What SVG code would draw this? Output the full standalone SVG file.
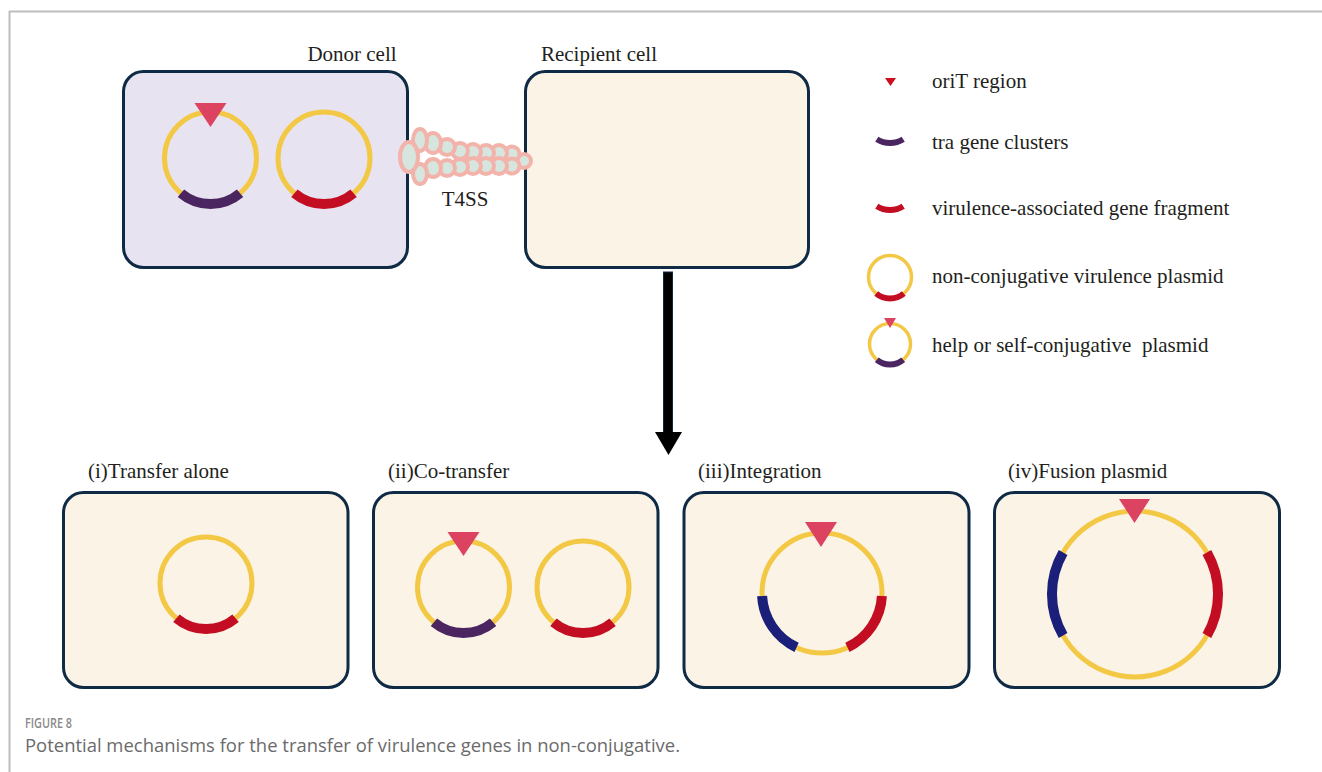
<svg xmlns="http://www.w3.org/2000/svg" width="1322" height="772" viewBox="0 0 1322 772">
  <style>
    .frame { stroke: #bdbdbd; stroke-width: 2; fill: none; }
    .cell { stroke: #0f2a44; stroke-width: 3; }
    .donor { fill: #e8e3f0; }
    .host { fill: #fbf4e6; }
    .lbl { font-family: "Liberation Serif", "Times New Roman", serif; font-size: 21px; fill: #231f20; }
    .ring { fill: none; stroke: #f3c845; stroke-width: 5; }
    .ring-s { fill: none; stroke: #f3c845; stroke-width: 3.5; }
    .vir { fill: none; stroke: #c30d23; stroke-width: 10; }
    .tra { fill: none; stroke: #4a2560; stroke-width: 10; }
    .ins { fill: none; stroke: #1b1f7a; stroke-width: 10; }
    .orit { fill: #dc4361; }
    .pilus { fill: #d7e5df; stroke: #f2b3aa; stroke-width: 4; }
    .cap-h { font-family: "Open Sans", "Liberation Sans", sans-serif; font-size: 14px; font-weight: 600; fill: #8a8a8a; }
    .cap { font-family: "Open Sans", "Liberation Sans", sans-serif; font-size: 18px; fill: #6b6b6b; }
  </style>
  <defs>
    <!-- plasmid carrying a virulence fragment (r = 46) -->
    <g id="plasmid-vir">
      <circle class="ring" r="46"/>
      <path class="vir" d="M 29.57 35.24 A 46 46 0 0 1 -29.57 35.24"/>
    </g>
    <!-- conjugative helper plasmid: tra cluster plus oriT -->
    <g id="plasmid-tra">
      <circle class="ring" r="46"/>
      <path class="tra" d="M 29.57 35.24 A 46 46 0 0 1 -29.57 35.24"/>
      <polygon class="orit" points="-16,-55 16,-55 0,-31"/>
    </g>
  </defs>

  <!-- page frame -->
  <g id="frame">
    <line class="frame" x1="9" y1="11.5" x2="1322" y2="11.5"/>
    <line class="frame" x1="9.5" y1="11" x2="9.5" y2="772"/>
  </g>

  <!-- donor cell -->
  <g id="donor-cell">
    <rect class="cell donor" x="123.5" y="71.5" width="284" height="196" rx="20"/>
    <text class="lbl" x="352" y="61" text-anchor="middle">Donor cell</text>
    <use href="#plasmid-tra" transform="translate(210.5,158)"/>
    <use href="#plasmid-vir" transform="translate(324,158)"/>
  </g>

  <!-- recipient cell -->
  <g id="recipient-cell">
    <rect class="cell host" x="525.5" y="71.5" width="283" height="196" rx="20"/>
    <text class="lbl" x="599" y="61" text-anchor="middle">Recipient cell</text>
  </g>

  <!-- type IV secretion system bridging the two cells -->
  <g id="t4ss">
    <circle class="pilus" cx="524" cy="161" r="7"/>
    <circle class="pilus" cx="512" cy="154" r="7.5"/>
    <circle class="pilus" cx="512" cy="166" r="7.5"/>
    <circle class="pilus" cx="499" cy="153" r="8"/>
    <circle class="pilus" cx="499" cy="166" r="8"/>
    <circle class="pilus" cx="486" cy="153" r="8"/>
    <circle class="pilus" cx="486" cy="166" r="8"/>
    <circle class="pilus" cx="473" cy="152" r="8"/>
    <circle class="pilus" cx="473" cy="166" r="8"/>
    <circle class="pilus" cx="460" cy="151" r="8"/>
    <circle class="pilus" cx="460" cy="167" r="8"/>
    <circle class="pilus" cx="447" cy="147" r="8"/>
    <circle class="pilus" cx="447" cy="168" r="8"/>
    <ellipse class="pilus" cx="433" cy="143" rx="8" ry="10"/>
    <ellipse class="pilus" cx="433" cy="168" rx="8" ry="9"/>
    <ellipse class="pilus" cx="420" cy="140" rx="7" ry="11"/>
    <ellipse class="pilus" cx="420" cy="174" rx="7" ry="10"/>
    <ellipse class="pilus" cx="409" cy="157" rx="9" ry="15"/>
    <text class="lbl" x="465" y="206" text-anchor="middle">T4SS</text>
  </g>

  <!-- legend -->
  <g id="legend">
    <polygon points="885,78 896,78 890.5,86" fill="#cc0e1e"/>
    <text class="lbl" x="932" y="88">oriT region</text>
    <path d="M 903.2 139.2 A 25 25 0 0 1 876.8 139.2" fill="none" stroke="#4a2560" stroke-width="6"/>
    <text class="lbl" x="932" y="149">tra gene clusters</text>
    <path d="M 903.2 206.2 A 25 25 0 0 1 876.8 206.2" fill="none" stroke="#c30d23" stroke-width="6"/>
    <text class="lbl" x="932" y="215">virulence-associated gene fragment</text>
    <circle class="ring-s" cx="890" cy="277" r="21.5"/>
    <path d="M 903.8 293.5 A 21.5 21.5 0 0 1 876.2 293.5" fill="none" stroke="#c30d23" stroke-width="6"/>
    <text class="lbl" x="932" y="283">non-conjugative virulence plasmid</text>
    <circle class="ring-s" cx="890" cy="344" r="20.5"/>
    <path d="M 903.2 359.7 A 20.5 20.5 0 0 1 876.8 359.7" fill="none" stroke="#4a2560" stroke-width="6"/>
    <polygon class="orit" points="884,318 896,318 890,328"/>
    <text class="lbl" x="932" y="352" xml:space="preserve">help or self-conjugative  plasmid</text>
  </g>

  <!-- transfer arrow -->
  <g id="connectors">
    <rect x="663.5" y="272" width="9" height="161" fill="#000" stroke="#0f2a44" stroke-width="1"/>
    <polygon points="655,432 682,432 668.5,455" fill="#000"/>
  </g>

  <!-- (i) transfer alone -->
  <g id="outcome-transfer-alone">
    <text class="lbl" x="88" y="478">(i)Transfer alone</text>
    <rect class="cell host" x="63.5" y="492.5" width="284.5" height="195" rx="20"/>
    <use href="#plasmid-vir" transform="translate(206,583)"/>
  </g>

  <!-- (ii) co-transfer -->
  <g id="outcome-co-transfer">
    <text class="lbl" x="388" y="478">(ii)Co-transfer</text>
    <rect class="cell host" x="373.5" y="492.5" width="284.5" height="195" rx="20"/>
    <use href="#plasmid-tra" transform="translate(463.5,587)"/>
    <use href="#plasmid-vir" transform="translate(583,587)"/>
  </g>

  <!-- (iii) integration -->
  <g id="outcome-integration">
    <text class="lbl" x="698" y="478">(iii)Integration</text>
    <rect class="cell host" x="684" y="492.5" width="285" height="195" rx="20"/>
    <circle class="ring" cx="822" cy="593" r="60"/>
    <path class="vir" d="M 881.9 596.1 A 60 60 0 0 1 847.4 647.4"/>
    <path class="ins" d="M 796.6 647.4 A 60 60 0 0 1 762.1 596.1"/>
    <polygon class="orit" points="805,522 837,522 821,547"/>
  </g>

  <!-- (iv) fusion plasmid -->
  <g id="outcome-fusion">
    <text class="lbl" x="1008" y="478">(iv)Fusion plasmid</text>
    <rect class="cell host" x="994.5" y="492.5" width="285" height="195" rx="20"/>
    <circle class="ring" cx="1135" cy="594" r="83"/>
    <path class="vir" d="M 1206.9 552.5 A 83 83 0 0 1 1206.9 635.5"/>
    <path class="ins" d="M 1063.1 635.5 A 83 83 0 0 1 1063.1 552.5"/>
    <polygon class="orit" points="1119,499 1150,499 1134.5,523"/>
  </g>

  <!-- caption -->
  <g id="caption">
    <text class="cap-h" x="25" y="728" textLength="47" lengthAdjust="spacingAndGlyphs">FIGURE 8</text>
    <text class="cap" x="25" y="752" textLength="655" lengthAdjust="spacingAndGlyphs">Potential mechanisms for the transfer of virulence genes in non-conjugative.</text>
  </g>
</svg>
